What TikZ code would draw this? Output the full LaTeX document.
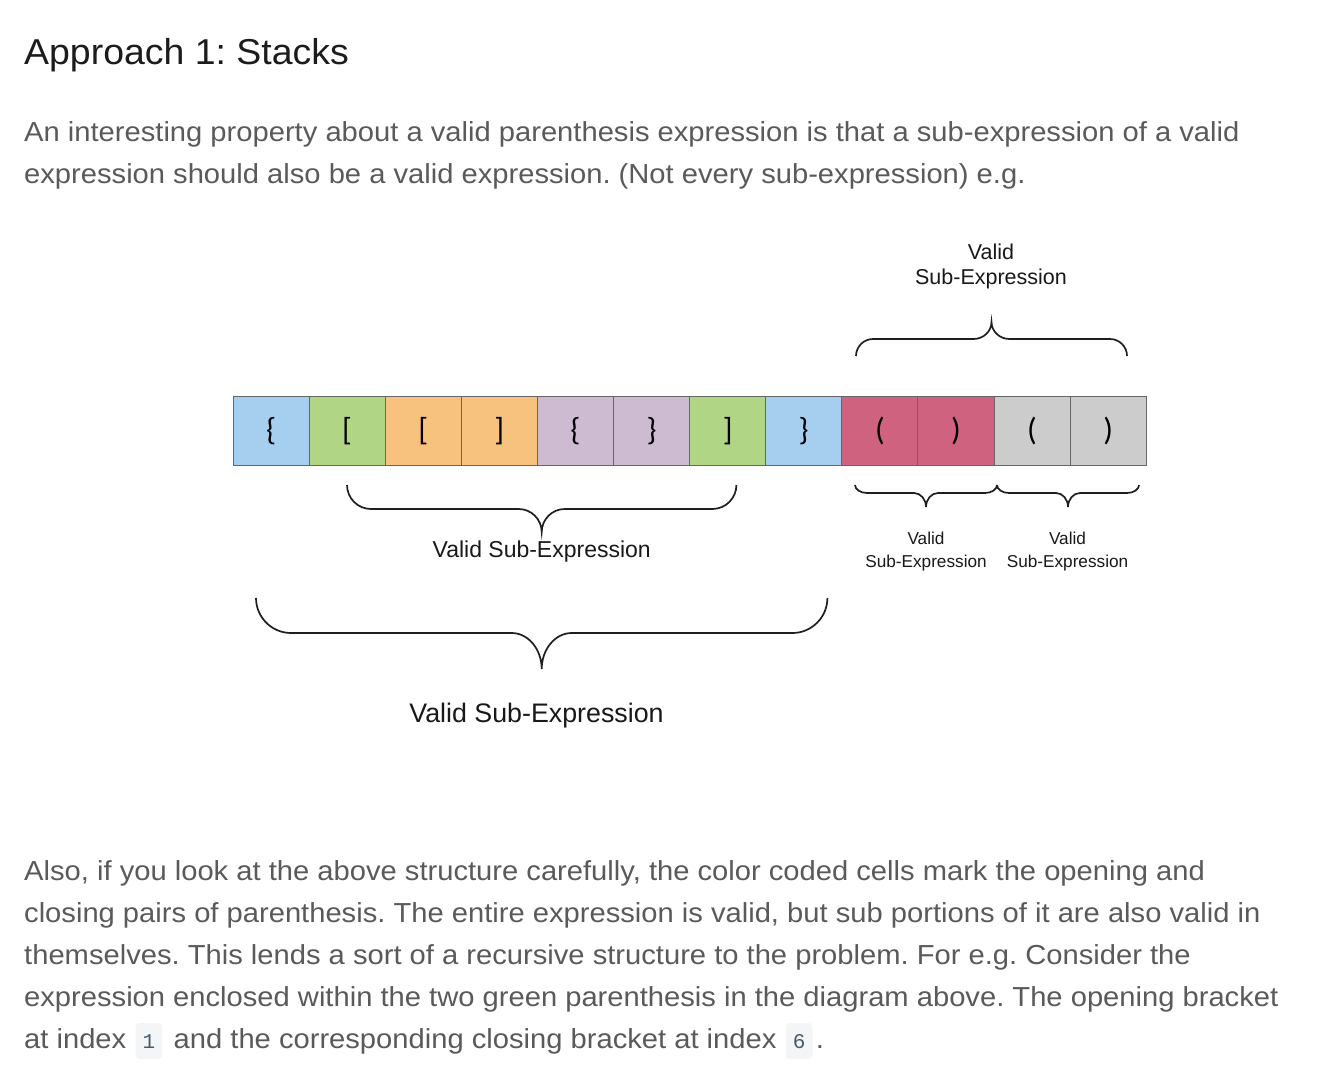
\documentclass[tikz,border=0pt]{standalone}
\usepackage{fontspec}
\setmainfont{Liberation Sans}
\newfontfamily\bodyfont[FakeStretch=1.06]{Liberation Sans}
\newfontfamily\headfont[FakeStretch=1.04]{Liberation Sans}
\newfontfamily\cellfont{Carlito}
\newfontfamily\codefont{Liberation Mono}
\usetikzlibrary{calc}
\frenchspacing
\definecolor{cblue}{HTML}{A6CFEF}
\definecolor{cgreen}{HTML}{B0D685}
\definecolor{corange}{HTML}{F6C27D}
\definecolor{clilac}{HTML}{CDBBD1}
\definecolor{cred}{HTML}{CF627F}
\definecolor{cgray}{HTML}{CCCCCC}
\definecolor{bodygray}{HTML}{5A5A5A}
\definecolor{headblack}{HTML}{1C1C1C}
\definecolor{codebg}{HTML}{F3F5F6}
\definecolor{codefg}{HTML}{4A5B6B}
\definecolor{cellline}{HTML}{666666}
% x1 x2 xtip yend yhoriz ytip cornerwidth tipwidth
\newcommand{\curlybr}[8]{%
  \draw[brc] (#1,#4) .. controls (#1,{#4+0.55*(#5-#4)}) and ({#1+0.45*#7},#5) .. ({#1+#7},#5)
     -- ({#3-#8},#5) .. controls ({#3-0.45*#8},#5) and (#3,{#5+0.45*(#6-#5)}) .. (#3,#6)
     .. controls (#3,{#5+0.45*(#6-#5)}) and ({#3+0.45*#8},#5) .. ({#3+#8},#5)
     -- ({#2-#7},#5) .. controls ({#2-0.45*#7},#5) and (#2,{#4+0.55*(#5-#4)}) .. (#2,#4);}
\begin{document}
\frenchspacing
\begin{tikzpicture}[x=1pt,y=-1pt,
  body/.style={inner sep=0pt, anchor=base west, text=bodygray, font=\bodyfont\fontsize{27.5}{42}\selectfont},
  cell/.style={draw=cellline, line width=1pt, minimum width=76.1pt, minimum height=69.6pt, inner sep=0pt, font=\cellfont\fontsize{32}{34}\selectfont, text=black},
  brc/.style={draw=black!88, line width=1.7pt},
  lbl/.style={inner sep=0pt, text=black!90, align=center},
  code/.style={fill=codebg, rounded corners=4pt, inner xsep=7pt, minimum height=36pt, text=codefg, font=\codefont\fontsize{21}{24}\selectfont, anchor=base west}]
\useasboundingbox[fill=white] (0,0) rectangle (1332,1084);
% heading
\node[inner sep=0pt, anchor=base west, text=headblack, font=\headfont\fontsize{36}{40}\selectfont] (head) at (24,64) {Approach 1: Stacks};
% first paragraph
\node[body] (p1a) at (24,141) {An interesting property about a valid parenthesis expression is that a sub-expression of a valid};
\node[body] (p1b) at (24,183) {expression should also be a valid expression. (Not every sub-expression) e.g.};
% cells
\node[cell, fill=cblue]   (c0)  at (271.05,430.8) {\raisebox{-3pt}{\{}};
\node[cell, fill=cgreen]  (c1)  at (347.15,430.8) {\raisebox{-3pt}{[}};
\node[cell, fill=corange] (c2)  at (423.25,430.8) {\raisebox{-3pt}{[}};
\node[cell, fill=corange] (c3)  at (499.35,430.8) {\raisebox{-3pt}{]}};
\node[cell, fill=clilac]  (c4)  at (575.45,430.8) {\raisebox{-3pt}{\{}};
\node[cell, fill=clilac]  (c5)  at (651.55,430.8) {\raisebox{-3pt}{\}}};
\node[cell, fill=cgreen]  (c6)  at (727.65,430.8) {\raisebox{-3pt}{]}};
\node[cell, fill=cblue]   (c7)  at (803.75,430.8) {\raisebox{-3pt}{\}}};
\node[cell, fill=cred]    (c8)  at (879.85,430.8) {\raisebox{-3pt}{(}};
\node[cell, fill=cred]    (c9)  at (955.95,430.8) {\raisebox{-3pt}{)}};
\node[cell, fill=cgray]   (c10) at (1032.05,430.8) {\raisebox{-3pt}{(}};
\node[cell, fill=cgray]   (c11) at (1108.15,430.8) {\raisebox{-3pt}{)}};
% braces
\curlybr{347}{736.4}{541.7}{485}{509}{532}{24}{23}
\curlybr{256}{827.4}{541.7}{598}{633}{669}{35}{30}
\curlybr{856}{1127}{991.5}{356}{339}{322}{17}{18}
\curlybr{855}{997}{926}{485}{493}{507}{12}{12}
\curlybr{997}{1139}{1068}{485}{493}{507}{12}{12}
% labels
\node[lbl, anchor=base, font=\fontsize{23}{27}\selectfont] (lmid) at (541.7,557) {Valid Sub-Expression};
\node[lbl, anchor=base, font=\fontsize{26.8}{30}\selectfont] (lbig) at (536.5,722.5) {Valid Sub-Expression};
\node[lbl, anchor=north, font=\fontsize{21.5}{25}\selectfont] (ltop) at (991,243.5) {Valid\\Sub-Expression};
\node[lbl, anchor=north, font=\fontsize{17.2}{23}\selectfont] (lsa) at (926,532) {Valid\\Sub-Expression};
\node[lbl, anchor=north, font=\fontsize{17.2}{23}\selectfont] (lsb) at (1067.5,532) {Valid\\Sub-Expression};
% second paragraph
\node[body] (p2a) at (24,880) {Also, if you look at the above structure carefully, the color coded cells mark the opening and};
\node[body] (p2b) at (24,922) {closing pairs of parenthesis. The entire expression is valid, but sub portions of it are also valid in};
\node[body] (p2c) at (24,964) {themselves. This lends a sort of a recursive structure to the problem. For e.g. Consider the};
\node[body] (p2d) at (24,1006) {expression enclosed within the two green parenthesis in the diagram above. The opening bracket};
\node[body] (p2e) at (24,1048) {at index};
\node[code] (k1) at ($(p2e.base east)+(9,0)$) {1};
\node[body] (p2f) at ($(k1.base east)+(11,0)$) {and the corresponding closing bracket at index};
\node[code] (k6) at ($(p2f.base east)+(9,0)$) {6};
\node[body] (p2g) at ($(k6.base east)+(3,0)$) {.};
\end{tikzpicture}
\end{document}
